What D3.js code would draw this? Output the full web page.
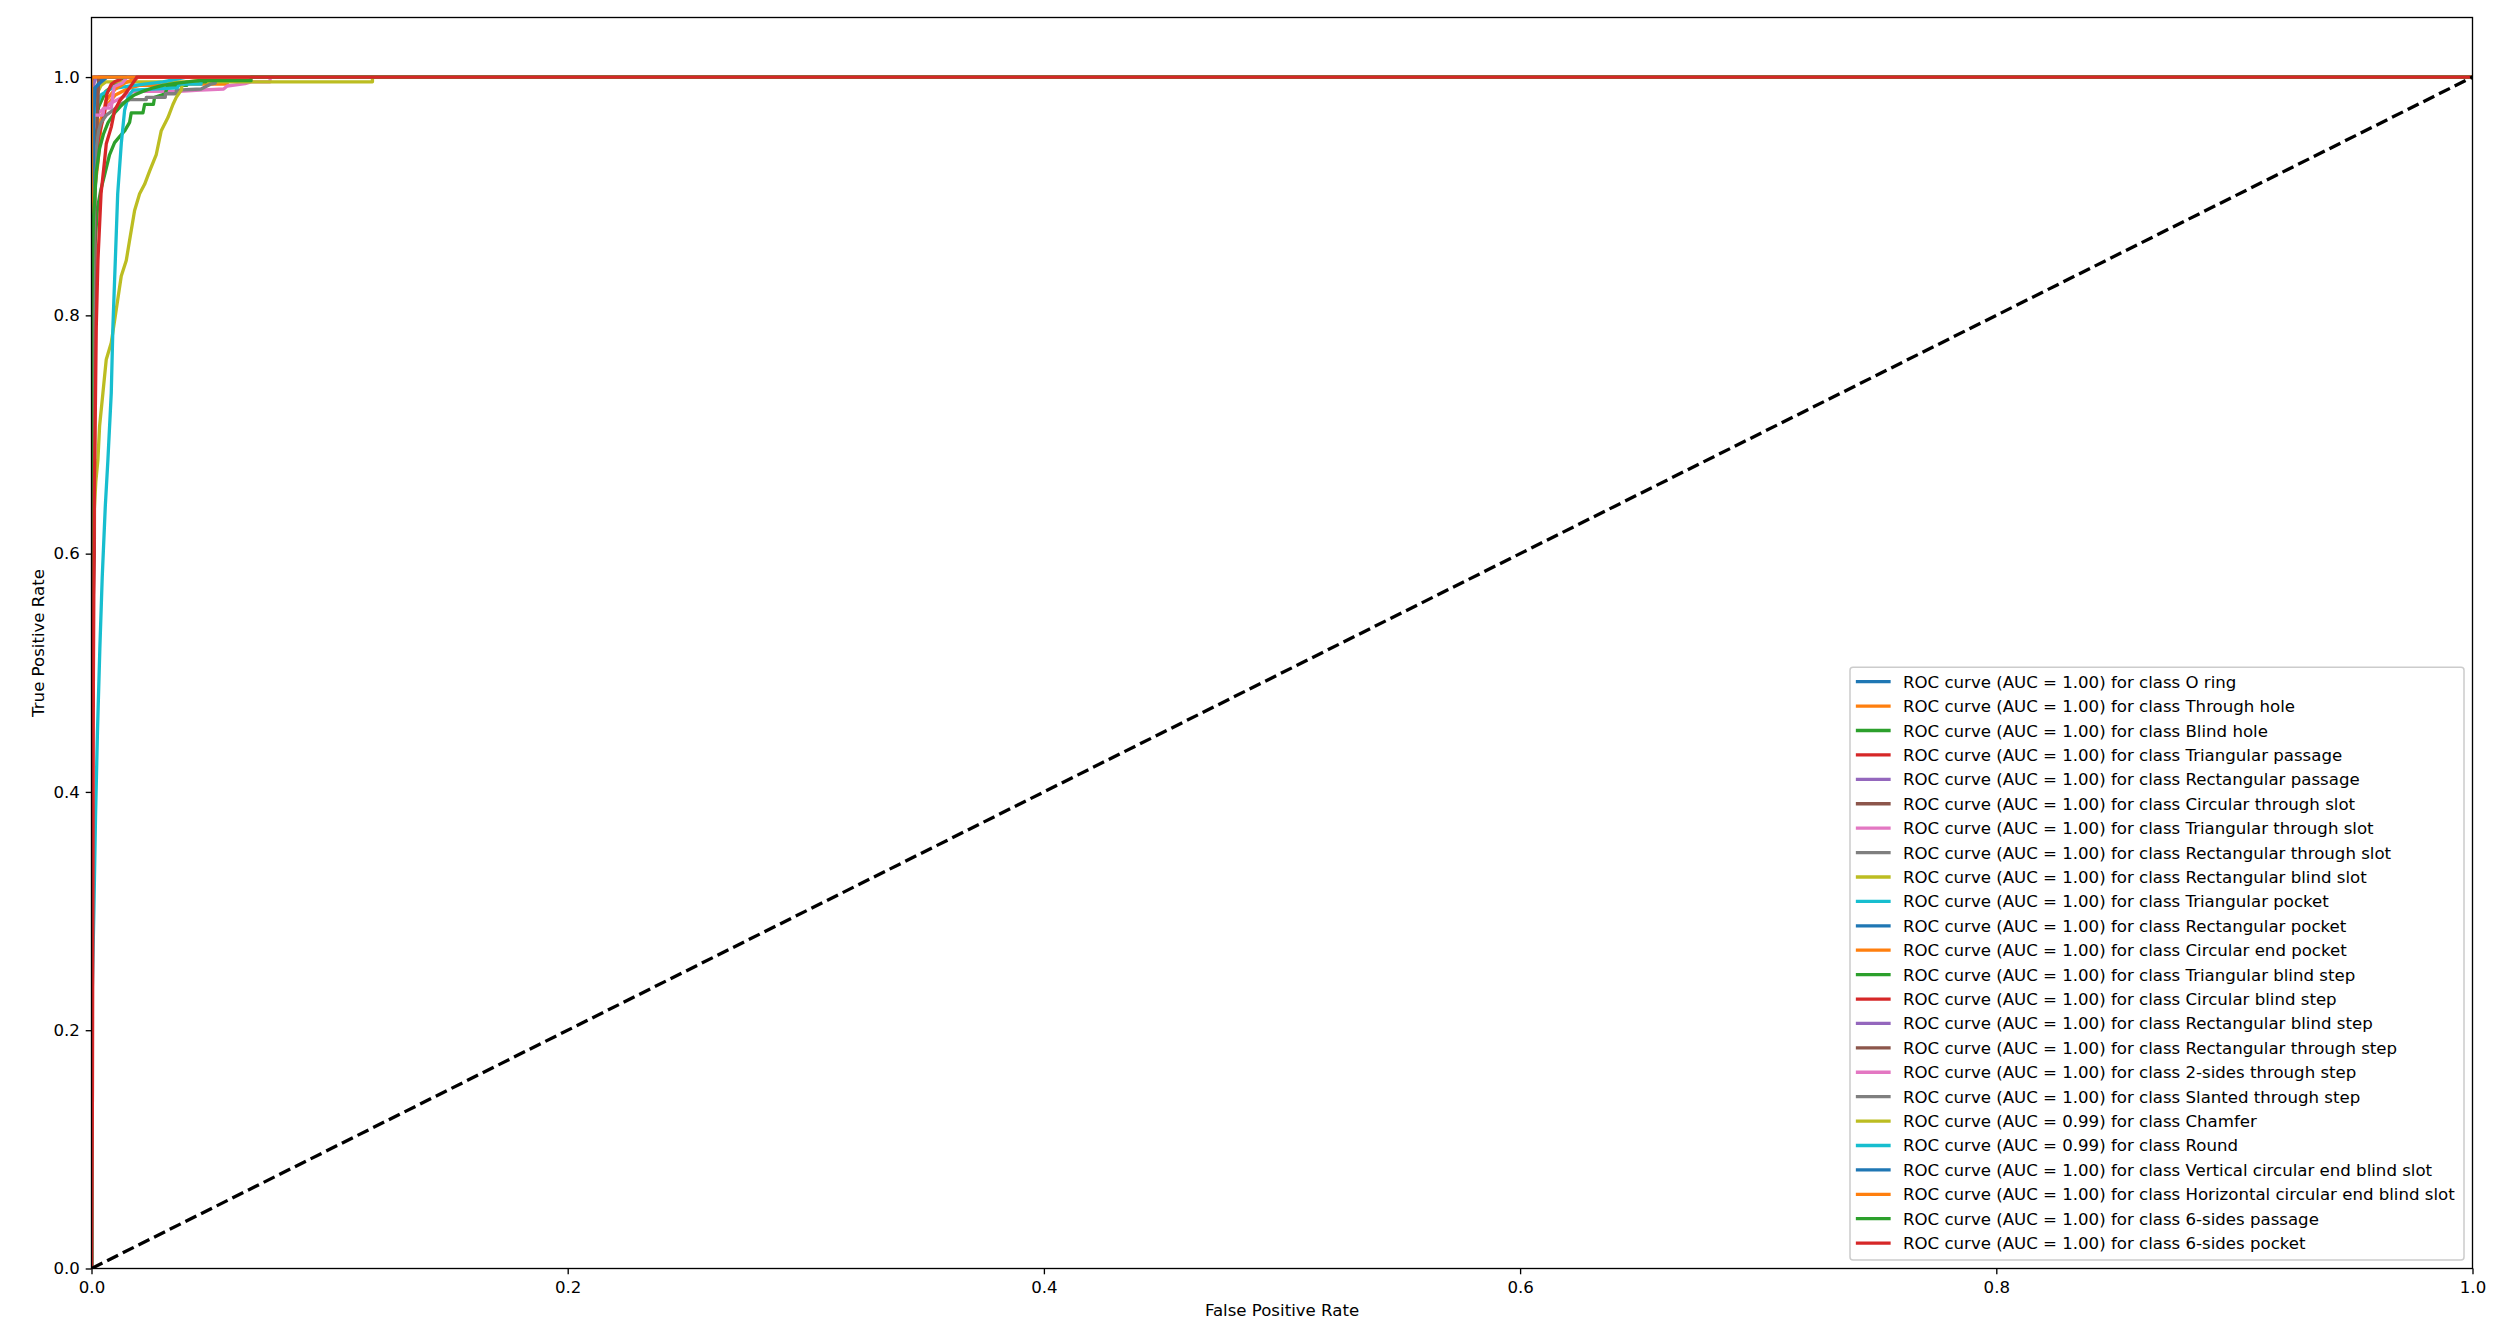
<!DOCTYPE html>
<html>
<head>
<meta charset="utf-8">
<script src="https://cdn.jsdelivr.net/npm/d3@7"></script>
<style>
  body { margin: 0; background: #fff; }
  svg { display: block; font-family: 'DejaVu Sans', sans-serif; }
</style>
</head>
<body>
<svg id="chart" width="2502" height="1336"></svg>
<script>
// class names and AUC values, in plotting order
const classNames = [
  'O ring', 'Through hole', 'Blind hole', 'Triangular passage', 'Rectangular passage',
  'Circular through slot', 'Triangular through slot', 'Rectangular through slot',
  'Rectangular blind slot', 'Triangular pocket', 'Rectangular pocket', 'Circular end pocket',
  'Triangular blind step', 'Circular blind step', 'Rectangular blind step',
  'Rectangular through step', '2-sides through step', 'Slanted through step', 'Chamfer',
  'Round', 'Vertical circular end blind slot', 'Horizontal circular end blind slot',
  '6-sides passage', '6-sides pocket'
]
const aucValues = [1.00, 1.00, 1.00, 1.00, 1.00, 1.00, 1.00, 1.00, 1.00, 1.00, 1.00, 1.00,
  1.00, 1.00, 1.00, 1.00, 1.00, 1.00, 0.99, 0.99, 1.00, 1.00, 1.00, 1.00]

// ROC points (false positive rate / true positive rate per class)
const fprValues = [
  [0, 0, 0.001, 1],
  [0, 0, 0.001, 0.003, 0.006, 0.01, 0.015, 0.02, 0.025, 0.038, 0.057, 0.057, 1],
  [0, 0, 0.001, 0.003, 0.006, 0.01, 0.015, 1],
  [0, 0, 0.001, 0.003, 0.005, 1],
  [0, 0, 0.0005, 1],
  [0, 0, 0.001, 1],
  [0, 0, 0.003, 0.008, 0.013, 0.0175, 0.037, 0.0457, 0.0555, 0.057, 0.0645, 0.067, 0.075, 0.075, 1],
  [0, 0, 0.001, 0.003, 0.005, 1],
  [0, 0, 0.0008, 0.002, 0.004, 0.006, 0.118, 0.118, 1],
  [0, 0, 0.001, 0.004, 0.008, 0.018, 0.03, 0.04, 1],
  [0, 0, 0.002, 0.004, 1],
  [0, 0, 0.001, 0.0028, 0.004, 0.006, 0.01, 0.014, 0.02, 1],
  [0, 0, 0.0008, 0.0015, 0.0025, 0.004, 0.0055, 0.0076, 0.0097, 0.0118, 0.014, 0.016, 0.0167,
    0.0216, 0.0223, 0.026, 0.0265, 0.031, 0.032, 0.04, 0.04, 0.048, 0.048, 1],
  [0, 0, 0.001, 0.003, 0.0055, 0.0065, 0.0083, 0.0097, 0.012, 0.013, 1],
  [0, 0, 0.001, 0.002, 1],
  [0, 0, 0.0012, 0.0015, 0.0025, 0.003, 1],
  [0, 0, 0.0048, 0.0052, 0.0083, 0.009, 0.0095, 0.013, 0.015, 1],
  [0, 0, 0.0007, 0.0013, 0.002, 0.003, 0.0041, 0.0062, 0.009, 0.0118, 0.016, 0.023, 0.023,
    0.031, 0.031, 0.0356, 0.0356, 0.046, 0.05, 0.052, 0.052, 1],
  [0, 0, 0.0005, 0.001, 0.0018, 0.0027, 0.0034, 0.0048, 0.0062, 0.0083, 0.0104, 0.0125, 0.0146,
    0.016, 0.0181, 0.0202, 0.0223, 0.0244, 0.0272, 0.0293, 0.0321, 0.0342, 0.0356, 0.0377,
    0.038, 0.04, 0.045, 0.045, 1],
  [0, 0, 0.0006, 0.001, 0.0017, 0.0025, 0.0035, 0.0045, 0.0058, 0.0069, 0.0083, 0.009, 0.01,
    0.011, 0.0125, 0.0139, 0.0153, 0.0174, 0.036, 0.037, 0.046, 0.046, 1],
  [0, 0, 0.0008, 0.001, 0.0035, 0.006, 0.006, 1],
  [0, 0, 1],
  [0, 0, 0.0008, 0.002, 0.0034, 0.005, 0.007, 0.0097, 0.012, 0.0146, 0.018, 0.0215, 0.026,
    0.03, 0.036, 0.045, 0.067, 0.067, 1],
  [0, 0.0004, 0.0008, 0.0012, 0.0015, 0.002, 0.0027, 0.004, 0.0055, 0.0062, 0.0083, 0.0097,
    0.0118, 0.0146, 0.0167, 0.0188, 0.019, 1]
]
const tprValues = [
  [0, 0.98, 1, 1],
  [0, 0.85, 0.93, 0.96, 0.975, 0.985, 0.99, 0.993, 0.993, 0.994, 0.994, 1, 1],
  [0, 0.9, 0.95, 0.975, 0.988, 0.994, 1, 1],
  [0, 0.95, 0.98, 0.99, 1, 1],
  [0, 0.99, 1, 1],
  [0, 0.95, 1, 1],
  [0, 0.95, 0.97, 0.978, 0.983, 0.988, 0.988, 0.989, 0.99, 0.9925, 0.9945, 0.996, 0.996, 1, 1],
  [0, 0.9, 0.97, 0.99, 1, 1],
  [0, 0.9, 0.96, 0.985, 0.993, 0.996, 0.996, 1, 1],
  [0, 0.93, 0.97, 0.985, 0.99, 0.993, 0.996, 1, 1],
  [0, 0.96, 0.99, 1, 1],
  [0, 0.8, 0.9, 0.93, 0.96, 0.98, 0.99, 0.995, 1, 1],
  [0, 0.7, 0.8, 0.86, 0.89, 0.906, 0.918, 0.935, 0.945, 0.95, 0.955, 0.962, 0.97,
    0.97, 0.977, 0.977, 0.983, 0.986, 0.993, 0.993, 0.996, 0.996, 1, 1],
  [0, 0.85, 0.92, 0.95, 0.97, 0.986, 0.994, 0.996, 0.998, 1, 1],
  [0, 0.97, 0.995, 1, 1],
  [0, 0.5, 0.6, 0.9, 0.97, 1, 1],
  [0, 0.968, 0.968, 0.974, 0.974, 0.985, 0.992, 0.995, 1, 1],
  [0, 0.6, 0.8, 0.9, 0.94, 0.955, 0.962, 0.968, 0.972, 0.977, 0.981, 0.981, 0.983,
    0.983, 0.986, 0.986, 0.989, 0.99, 0.994, 0.995, 1, 1],
  [0, 0.5, 0.58, 0.63, 0.66, 0.679, 0.707, 0.735, 0.763, 0.777, 0.805, 0.833, 0.846,
    0.863, 0.888, 0.902, 0.91, 0.921, 0.935, 0.955, 0.966, 0.977, 0.983, 0.989,
    0.993, 0.996, 0.997, 1, 1],
  [0, 0.2, 0.26, 0.3, 0.38, 0.45, 0.52, 0.58, 0.64, 0.679, 0.735, 0.791, 0.846,
    0.902, 0.944, 0.972, 0.983, 0.989, 0.991, 0.994, 0.994, 1, 1],
  [0, 0.9, 0.93, 0.99, 0.995, 0.999, 1, 1],
  [0, 1, 1],
  [0, 0.8, 0.88, 0.92, 0.94, 0.952, 0.962, 0.97, 0.975, 0.98, 0.985, 0.988, 0.991,
    0.993, 0.995, 0.997, 0.997, 1, 1],
  [0, 0.15, 0.5, 0.65, 0.7, 0.79, 0.846, 0.902, 0.93, 0.944, 0.958, 0.972,
    0.98, 0.987, 0.993, 0.999, 1, 1]
]

const xTicks = [0, 0.2, 0.4, 0.6, 0.8, 1.0]
const yTicks = [0, 0.2, 0.4, 0.6, 0.8, 1.0]
const colors = d3.schemeCategory10

const settings = {
  left: 91.5, right: 2472.5, top: 17.5, bottom: 1268.5,
  fontSize: 16.6,
  lineWidth: 3.3,
  spineWidth: 1.33,
  tickSize: 5.8
}

const svg = d3.select('#chart')

let x = d3.scaleLinear().domain([0, 1]).range([settings.left, settings.right])
let y = d3.scaleLinear().domain([0, 1.05]).range([settings.bottom, settings.top])

svg.append('defs').append('clipPath')
    .attr('id', 'plot-clip')
  .append('rect')
    .attr('x', settings.left)
    .attr('y', settings.top)
    .attr('width', settings.right - settings.left)
    .attr('height', settings.bottom - settings.top)

let curves = classNames.map((name, i) => ({
  name: name,
  auc: aucValues[i],
  color: colors[i % 10],
  points: fprValues[i].map((f, j) => [f, tprValues[i][j]])
}))

let line = d3.line()
  .x(d => x(d[0]))
  .y(d => y(d[1]))

let plot = svg.append('g')
  .attr('clip-path', 'url(#plot-clip)')

plot.selectAll('path.roc').data(curves)
  .enter().append('path')
    .attr('class', 'roc')
    .attr('d', d => line(d.points))
    .style('fill', 'none')
    .style('stroke', d => d.color)
    .style('stroke-width', settings.lineWidth)
    .style('stroke-linecap', 'square')
    .style('stroke-linejoin', 'round')

// chance line
plot.append('path')
  .attr('d', line([[0, 0], [1, 1]]))
  .style('fill', 'none')
  .style('stroke', '#000')
  .style('stroke-width', settings.lineWidth)
  .style('stroke-dasharray', '12.2,5.3')

// axes
let xAxis = svg.append('g')
  .attr('transform', `translate(0,${ settings.bottom })`)
  .call(d3.axisBottom(x).tickValues(xTicks).tickFormat(d3.format('.1f'))
    .tickSize(settings.tickSize).tickPadding(6.6))

let yAxis = svg.append('g')
  .attr('transform', `translate(${ settings.left },0)`)
  .call(d3.axisLeft(y).tickValues(yTicks).tickFormat(d3.format('.1f'))
    .tickSize(settings.tickSize).tickPadding(5.8))

;[xAxis, yAxis].forEach(a => {
  a.select('.domain').remove()
  a.selectAll('line').style('stroke', '#000').style('stroke-width', settings.spineWidth)
  a.selectAll('text')
    .style('font-family', "'DejaVu Sans', sans-serif")
    .style('font-size', settings.fontSize + 'px')
    .style('fill', '#000')
})

// spines
svg.append('rect')
  .attr('x', settings.left)
  .attr('y', settings.top)
  .attr('width', settings.right - settings.left)
  .attr('height', settings.bottom - settings.top)
  .style('fill', 'none')
  .style('stroke', '#000')
  .style('stroke-width', settings.spineWidth)

svg.append('text')
  .attr('x', (settings.left + settings.right) / 2)
  .attr('y', 1316)
  .attr('text-anchor', 'middle')
  .style('font-size', settings.fontSize + 'px')
  .text('False Positive Rate')

svg.append('text')
  .attr('transform', `translate(43.5,${ (settings.top + settings.bottom) / 2 }) rotate(-90)`)
  .attr('text-anchor', 'middle')
  .style('font-size', settings.fontSize + 'px')
  .text('True Positive Rate')

// legend, lower right
let legend = svg.append('g').attr('class', 'legend')

legend.append('rect')
  .attr('x', 1850)
  .attr('y', 667.3)
  .attr('width', 614)
  .attr('height', 592.7)
  .attr('rx', 3)
  .style('fill', '#fff')
  .style('fill-opacity', 0.8)
  .style('stroke', '#cccccc')
  .style('stroke-width', 1.5)

let rowY = i => 681.7 + i * 24.41

let rows = legend.selectAll('g.row').data(curves)
  .enter().append('g')
    .attr('class', 'row')
    .attr('transform', (d, i) => `translate(0,${ rowY(i) })`)

rows.append('line')
  .attr('x1', 1857.5)
  .attr('x2', 1889)
  .style('stroke', d => d.color)
  .style('stroke-width', settings.lineWidth)
  .style('stroke-linecap', 'square')

rows.append('text')
  .attr('x', 1903)
  .attr('dy', '0.36em')
  .style('font-size', settings.fontSize + 'px')
  .text(d => `ROC curve (AUC = ${ d.auc.toFixed(2) }) for class ${ d.name }`)
</script>
</body>
</html>
